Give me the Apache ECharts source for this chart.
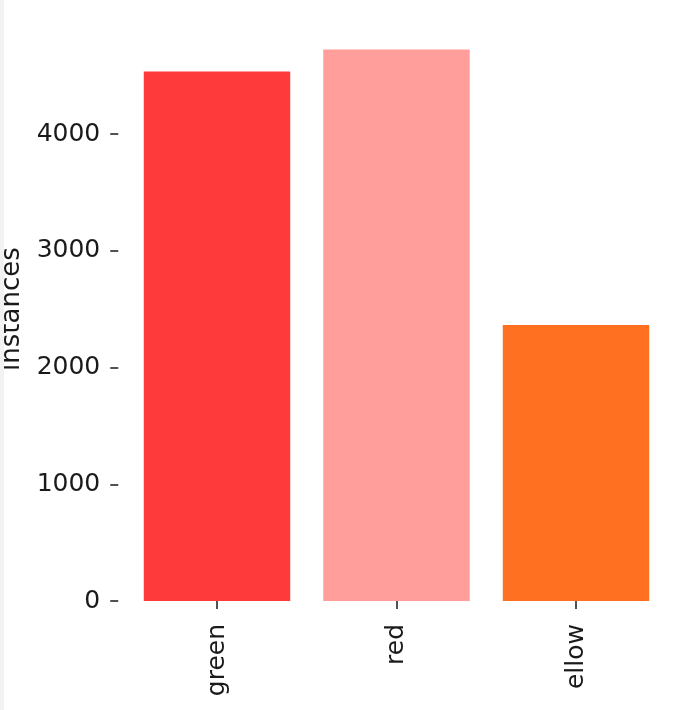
<!DOCTYPE html>
<html>
<head>
<meta charset="utf-8">
<script src="https://cdn.jsdelivr.net/npm/echarts@6/dist/echarts.min.js"></script>
<style>
html,body{margin:0;padding:0;background:#fff;}
#chart{width:699px;height:710px;}
</style>
</head>
<body>
<div id="chart"></div>
<script>
const categories = ['green', 'red', 'ellow'];
const instanceCounts = [4535, 4724, 2365];
const barColors = ['#FF3A3B', '#FF9E9B', '#FF7020'];
const yTickValues = [0, 1000, 2000, 3000, 4000];
const yAxisName = 'instances';

const chart = echarts.init(document.getElementById('chart'), null, {renderer: 'canvas'});
const font = 'DejaVu Sans';
chart.setOption({
  backgroundColor: '#ffffff',
  animation: false,
  graphic: [{
    type: 'rect', left: 0, top: 0, z: 100,
    shape: {width: 4, height: 710},
    style: {fill: '#f2f2f2'}
  }],
  grid: {left: 127.25, right: 33.25, top: 17.25, bottom: 109, containLabel: false, outerBoundsMode: 'none'},
  xAxis: {
    type: 'category',
    data: categories,
    axisLine: {show: false},
    axisTick: {show: true, alignWithLabel: true, length: 8, lineStyle: {color: '#1a1a1a', width: 1.5}},
    axisLabel: {rotate: 90, margin: 23, fontSize: 25, fontFamily: font, color: '#1a1a1a'},
    splitLine: {show: false}
  },
  yAxis: {
    type: 'value',
    min: 0, max: 5000, interval: 1000,
    offset: 9,
    name: yAxisName,
    nameLocation: 'middle',
    nameGap: 92,
    nameRotate: 90,
    nameTextStyle: {fontSize: 26, fontFamily: font, color: '#1a1a1a'},
    axisLine: {show: false},
    axisTick: {show: true, length: 8, customValues: yTickValues, lineStyle: {color: '#1a1a1a', width: 1.5}},
    axisLabel: {margin: 18, fontSize: 25, fontFamily: font, color: '#1a1a1a', customValues: yTickValues,
      formatter: v => String(v)},
    splitLine: {show: false}
  },
  series: [{
    type: 'bar',
    data: instanceCounts.map((v, i) => ({value: v, itemStyle: {color: barColors[i]}})),
    barWidth: '81.6%'
  }]
});
</script>
</body>
</html>
